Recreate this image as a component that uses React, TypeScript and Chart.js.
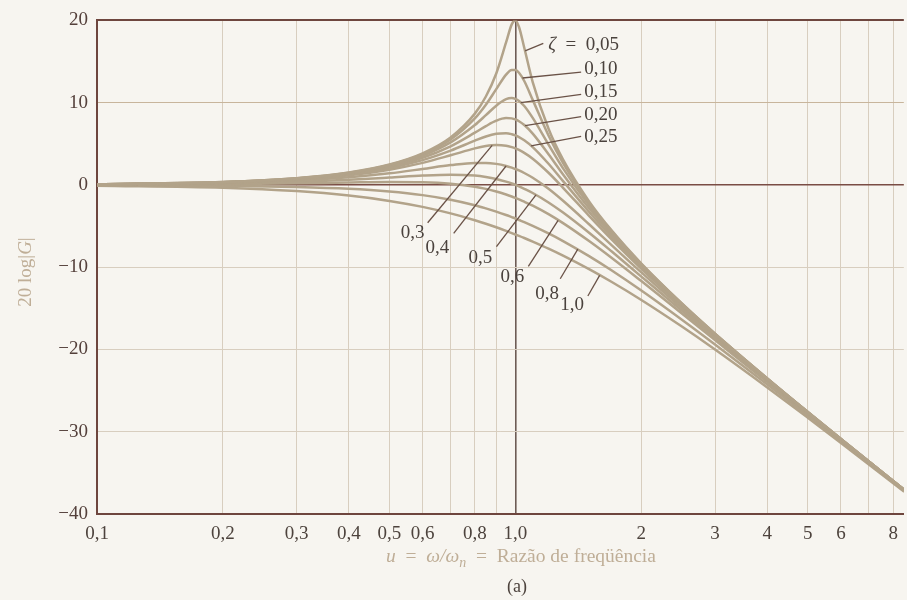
import React, { useEffect, useRef } from "react";
import { Chart, registerables } from "chart.js";
Chart.register(...registerables);

// frequency ratio u = ω/ωn
const U = [0.1, 0.2, 0.3, 0.4, 0.5, 0.6, 0.7, 0.8, 0.85, 0.9, 0.95, 0.98, 1.0, 1.02, 1.05, 1.1, 1.2, 1.3, 1.5, 1.7, 2, 2.5, 3, 4, 5, 6, 8.5];

// 20 log|G| (dB) read for each damping ratio ζ
const Z005 = [0.09, 0.35, 0.81, 1.5, 2.48, 3.84, 5.77, 8.67, 10.75, 13.55, 17.32, 19.52, 20.0, 19.2, 16.67, 12.5, 6.82, 3.07, -2.0, -5.56, -9.56, -14.41, -18.07, -23.52, -27.61, -30.88, -37.06];
const Z010 = [0.09, 0.35, 0.8, 1.47, 2.42, 3.73, 5.53, 8.09, 9.75, 11.64, 13.41, 13.98, 13.98, 13.64, 12.63, 10.34, 6.0, 2.65, -2.18, -5.67, -9.62, -14.44, -18.09, -23.53, -27.61, -30.89, -37.06];
const Z015 = [0.08, 0.34, 0.78, 1.43, 2.33, 3.55, 5.17, 7.28, 8.48, 9.63, 10.42, 10.56, 10.46, 10.21, 9.6, 8.15, 4.91, 2.02, -2.47, -5.83, -9.71, -14.49, -18.12, -23.55, -27.62, -30.89, -37.06];
const Z020 = [0.08, 0.32, 0.74, 1.36, 2.2, 3.31, 4.7, 6.35, 7.15, 7.81, 8.13, 8.09, 7.96, 7.74, 7.28, 6.24, 3.73, 1.27, -2.84, -6.06, -9.84, -14.56, -18.16, -23.57, -27.63, -30.9, -37.07];
const Z025 = [0.08, 0.31, 0.7, 1.28, 2.04, 3.01, 4.17, 5.38, 5.89, 6.22, 6.29, 6.17, 6.02, 5.82, 5.43, 4.6, 2.57, 0.46, -3.27, -6.33, -10.0, -14.64, -18.21, -23.6, -27.65, -30.91, -37.07];
const Z030 = [0.07, 0.29, 0.65, 1.17, 1.85, 2.68, 3.6, 4.44, 4.72, 4.85, 4.76, 4.59, 4.44, 4.25, 3.9, 3.19, 1.48, -0.35, -3.75, -6.64, -10.19, -14.74, -18.28, -23.63, -27.67, -30.93, -37.08];
const Z040 = [0.06, 0.24, 0.53, 0.93, 1.41, 1.94, 2.41, 2.68, 2.68, 2.56, 2.31, 2.1, 1.94, 1.76, 1.45, 0.87, -0.47, -1.93, -4.78, -7.34, -10.63, -14.99, -18.44, -23.72, -27.72, -30.96, -37.1];
const Z050 = [0.04, 0.17, 0.37, 0.63, 0.9, 1.14, 1.25, 1.14, 0.97, 0.73, 0.4, 0.17, 0.0, -0.18, -0.47, -0.98, -2.13, -3.36, -5.81, -8.1, -11.14, -15.29, -18.63, -23.82, -27.79, -31.01, -37.12];
const Z060 = [0.02, 0.09, 0.19, 0.29, 0.35, 0.32, 0.15, -0.22, -0.48, -0.8, -1.17, -1.41, -1.58, -1.76, -2.04, -2.52, -3.55, -4.64, -6.82, -8.88, -11.69, -15.63, -18.86, -23.95, -27.87, -31.06, -37.14];
const Z080 = [-0.02, -0.1, -0.25, -0.47, -0.8, -1.24, -1.8, -2.47, -2.85, -3.24, -3.65, -3.91, -4.08, -4.26, -4.52, -4.97, -5.89, -6.82, -8.65, -10.4, -12.84, -16.39, -19.4, -24.25, -28.06, -31.2, -37.21];
const Z100 = [-0.09, -0.34, -0.75, -1.29, -1.94, -2.67, -3.46, -4.3, -4.72, -5.15, -5.59, -5.85, -6.02, -6.19, -6.45, -6.89, -7.75, -8.6, -10.24, -11.8, -13.98, -17.21, -20.0, -24.61, -28.3, -31.36, -37.3];
const SERIES = [Z005, Z010, Z015, Z020, Z025, Z030, Z040, Z050, Z060, Z080, Z100];
const SERIES_NAMES = ["0,05", "0,10", "0,15", "0,20", "0,25", "0,3", "0,4", "0,5", "0,6", "0,8", "1,0"];

// axis ticks
const X_TICKS = [0.1, 0.2, 0.3, 0.4, 0.5, 0.6, 0.7, 0.8, 0.9, 1, 2, 3, 4, 5, 6, 7, 8];
const X_LABELS = ["0,1", "0,2", "0,3", "0,4", "0,5", "0,6", "", "0,8", "", "1,0", "2", "3", "4", "5", "6", "", "8"];
const Y_TICKS = [20, 10, 0, -10, -20, -30, -40];

// curve labels: text anchor (left, middle) and leader line (from curve to text), in data units
const LBL_TEXT = ["ζ\u2002=\u20020,05", "0,10", "0,15", "0,20", "0,25", "0,3", "0,4", "0,5", "0,6", "0,8", "1,0"];
const LBL_U = [1.198, 1.46, 1.46, 1.46, 1.46, 0.532, 0.61, 0.773, 0.921, 1.116, 1.28];
const LBL_DB = [17.0, 14.1, 11.3, 8.55, 5.8, -5.9, -7.7, -8.9, -11.2, -13.3, -14.6];
const LEAD_U1 = [1.055, 1.04, 1.03, 1.055, 1.09, 0.88, 0.95, 1.12, 1.265, 1.41, 1.59];
const LEAD_DB1 = [16.3, 13.0, 10.0, 7.2, 4.75, 4.8, 2.3, -1.2, -4.3, -7.8, -11.0];
const LEAD_U2 = [1.166, 1.436, 1.436, 1.436, 1.436, 0.617, 0.712, 0.901, 1.074, 1.28, 1.49];
const LEAD_DB2 = [17.2, 13.7, 11.0, 8.3, 5.9, -4.6, -5.9, -7.5, -9.9, -11.4, -13.5];

const BG = "#f7f5f0";
const CURVE = "#b2a38a";
const GRID = "#d8cebf";
const DARK = "#6e463e";
const TICK_COLOR = "#4d433d";
const TITLE_COLOR = "#bfae97";
const SERIF = "'Liberation Serif', 'DejaVu Serif', serif";

type Part = { t: string; italic?: boolean; sub?: boolean };

function drawParts(ctx: CanvasRenderingContext2D, parts: Part[], x: number, y: number, size: number, align: "left" | "center") {
  const fontOf = (p: Part) => `${p.italic ? "italic " : ""}${p.sub ? Math.round(size * 0.7) : size}px ${SERIF}`;
  let total = 0;
  for (const p of parts) {
    ctx.font = fontOf(p);
    total += ctx.measureText(p.t).width;
  }
  let cx = align === "center" ? x - total / 2 : x;
  ctx.textBaseline = "middle";
  ctx.textAlign = "left";
  for (const p of parts) {
    ctx.font = fontOf(p);
    ctx.fillText(p.t, cx, p.sub ? y + size * 0.3 : y);
    cx += ctx.measureText(p.t).width;
  }
}

const overlay = {
  id: "overlay",
  beforeDraw(chart: any) {
    const c = chart.ctx;
    c.save();
    c.fillStyle = BG;
    c.fillRect(0, 0, chart.width, chart.height);
    c.restore();
  },
  afterDatasetsDraw(chart: any) {
    const { ctx } = chart;
    const xs = chart.scales.x;
    const ys = chart.scales.y;
    ctx.save();
    ctx.strokeStyle = "#6a5247";
    ctx.lineWidth = 1.3;
    for (let i = 0; i < LBL_TEXT.length; i++) {
      ctx.beginPath();
      ctx.moveTo(xs.getPixelForValue(LEAD_U1[i]), ys.getPixelForValue(LEAD_DB1[i]));
      ctx.lineTo(xs.getPixelForValue(LEAD_U2[i]), ys.getPixelForValue(LEAD_DB2[i]));
      ctx.stroke();
    }
    ctx.fillStyle = "#4a423d";
    for (let i = 0; i < LBL_TEXT.length; i++) {
      const t = LBL_TEXT[i];
      const px = xs.getPixelForValue(LBL_U[i]);
      const py = ys.getPixelForValue(LBL_DB[i]);
      if (t.startsWith("ζ")) {
        drawParts(ctx, [{ t: "ζ", italic: true }, { t: t.slice(1) }], px, py, 19, "left");
      } else {
        drawParts(ctx, [{ t }], px, py, 19, "left");
      }
    }
    ctx.restore();
  },
  afterDraw(chart: any) {
    const { ctx } = chart;
    ctx.save();
    // y title
    ctx.fillStyle = TITLE_COLOR;
    ctx.translate(26, 272);
    ctx.rotate(-Math.PI / 2);
    drawParts(ctx, [{ t: "20 log|" }, { t: "G", italic: true }, { t: "|" }], 0, 0, 19, "center");
    ctx.restore();
    ctx.save();
    ctx.fillStyle = TITLE_COLOR;
    drawParts(
      ctx,
      [
        { t: "u", italic: true },
        { t: "\u2002=\u2002" },
        { t: "ω/ω", italic: true },
        { t: "n", italic: true, sub: true },
        { t: "\u2002=\u2002Razão de freqüência" },
      ],
      521,
      557,
      19.5,
      "center"
    );
    ctx.fillStyle = TICK_COLOR;
    drawParts(ctx, [{ t: "(a)" }], 517, 587, 18, "center");
    ctx.restore();
  },
};

export default function App() {
  const ref = useRef<HTMLCanvasElement | null>(null);
  useEffect(() => {
    document.body.style.margin = "0";
    const canvas = ref.current;
    if (!canvas) return;
    const chart = new Chart(canvas, {
      type: "line",
      data: {
        datasets: SERIES.map((s, i) => ({
          label: SERIES_NAMES[i],
          data: U.map((u, j) => ({ x: u, y: s[j] })),
          borderColor: CURVE,
          borderWidth: 2.5,
          pointRadius: 0,
          fill: false,
          cubicInterpolationMode: "monotone" as const,
        })),
      },
      options: {
        animation: false,
        responsive: false,
        devicePixelRatio: 1,
        layout: { padding: { top: 18, right: 0, left: 0, bottom: 0 } },
        plugins: { legend: { display: false }, tooltip: { enabled: false }, title: { display: false } },
        scales: {
          x: {
            type: "logarithmic",
            min: 0.1,
            max: 8.48,
            afterBuildTicks: (scale: any) => {
              scale.ticks = X_TICKS.map((v) => ({ value: v }));
            },
            afterFit: (scale: any) => {
              scale.height = 86;
            },
            ticks: {
              autoSkip: false,
              maxRotation: 0,
              minRotation: 0,
              padding: 9,
              color: TICK_COLOR,
              font: { family: SERIF, size: 19 },
              callback: (_v: any, i: number) => X_LABELS[i],
            },
            grid: {
              drawTicks: false,
              color: (c: any) => (c.tick && c.tick.value === 1 ? "#6d5c55" : GRID),
              lineWidth: (c: any) => (c.tick && c.tick.value === 1 ? 1.6 : 1),
            },
            border: { color: DARK, width: 2 },
          },
          y: {
            type: "linear",
            min: -40,
            max: 20,
            afterBuildTicks: (scale: any) => {
              scale.ticks = Y_TICKS.map((v) => ({ value: v }));
            },
            afterFit: (scale: any) => {
              scale.width = 97;
            },
            ticks: {
              padding: 9,
              color: "#54403b",
              font: { family: SERIF, size: 19 },
              callback: (v: any) => (v < 0 ? "\u2212" + Math.abs(v) : String(v)),
            },
            grid: {
              drawTicks: false,
              color: (c: any) => {
                const v = c.tick && c.tick.value;
                if (v === 20) return DARK;
                if (v === 0) return "#7a4d45";
                if (v === 10) return "#c8b59c";
                return GRID;
              },
              lineWidth: (c: any) => {
                const v = c.tick && c.tick.value;
                if (v === 20) return 2;
                if (v === 0) return 1.6;
                return 1;
              },
            },
            border: { color: DARK, width: 2 },
          },
        },
      },
      plugins: [overlay],
    });
    return () => chart.destroy();
  }, []);
  return <canvas ref={ref} width={907} height={600} style={{ display: "block" }} />;
}
